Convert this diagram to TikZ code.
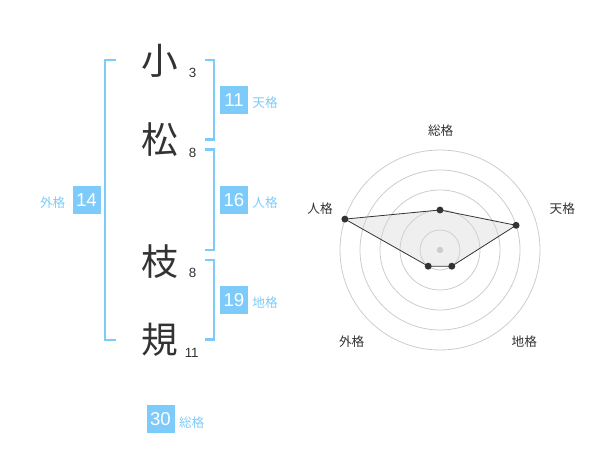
\documentclass[tikz,border=0pt]{standalone}
\usepackage{fontspec}
\setmainfont{Liberation Sans}
\newfontfamily\jpfont{Noto Sans CJK JP}

\definecolor{kakublue}{RGB}{125,203,250}
\definecolor{inkgray}{RGB}{51,51,51}
\definecolor{ringgray}{RGB}{204,204,204}

\tikzset{every picture/.style={line width=0.75pt}}
\tikzset{
  kanji/.style={inner sep=0pt, text=inkgray, font=\jpfont\fontsize{27.5}{27.5}\selectfont},
  strokenum/.style={inner sep=0.75pt, text=inkgray, font=\fontsize{10}{10}\selectfont},
  kakubox/.style={fill=kakublue, text=white, inner sep=0pt, minimum size=21pt, font=\fontsize{14}{14}\selectfont},
  kakulabel/.style={inner sep=0.75pt, text=kakublue, font=\jpfont\fontsize{9.5}{9.5}\selectfont},
  bracket/.style={draw=kakublue, line width=1.6pt},
  ring/.style={draw=ringgray, line width=0.6pt},
  radarlabel/.style={inner sep=0.75pt, text=inkgray, font=\jpfont\fontsize{9.5}{9.5}\selectfont},
  radardot/.style={fill=inkgray}
}

\begin{document}
\begin{tikzpicture}[x=0.75pt,y=0.75pt,yscale=-1,xscale=1]
\path[use as bounding box] (0,0) rectangle (600,470);

%Straight Lines (brackets)
\draw [bracket]   (116,60) -- (105,60) -- (105,340) -- (116,340) ;
\draw [bracket]   (205,60) -- (214,60) -- (214,139.5) -- (205,139.5) ;
\draw [bracket]   (205,149.5) -- (214,149.5) -- (214,250) -- (205,250) ;
\draw [bracket]   (205,260) -- (214,260) -- (214,339.5) -- (205,339.5) ;

% Text Node
\draw (160,61.2) node (sho) [kanji] {小};
\draw (160,139.5) node (matsu) [kanji] {松};
\draw (160,261.2) node (eda) [kanji] {枝};
\draw (160,339.5) node (ki) [kanji] {規};
\draw (192.7,72.7) node (shoN) [strokenum] {3};
\draw (192.7,152.7) node (matsuN) [strokenum] {8};
\draw (192.7,272.7) node (edaN) [strokenum] {8};
\draw (191.7,352.7) node (kiN) [strokenum] {11};

% Text Node
\draw (234,100) node (tenB) [kakubox] {11};
\draw (234,200) node (jinB) [kakubox] {16};
\draw (234,300) node (chiB) [kakubox] {19};
\draw (86.5,200) node (gaiB) [kakubox] {14};
\draw (160.5,419) node (souB) [kakubox] {30};
\draw (265,103) node (tenL) [kakulabel] {天格};
\draw (265,203) node (jinL) [kakulabel] {人格};
\draw (265,303) node (chiL) [kakulabel] {地格};
\draw (52.7,203) node (gaiL) [kakulabel] {外格};
\draw (191.7,422.5) node (souL) [kakulabel] {総格};

%Shape: Circle (radar rings)
\coordinate (c) at (440,250);
\foreach \r in {20,40,60,80,100}
  \draw [ring] (c) circle [radius=\r*0.75pt];

\coordinate (sou) at (440,210);
\coordinate (ten) at (516.1,225.3);
\coordinate (chi) at (451.8,266.2);
\coordinate (gai) at (428.2,266.2);
\coordinate (jin) at (344.9,219.1);

%Shape: Polygon
\fill [fill={rgb,255:red,215;green,215;blue,215}, fill opacity=0.4] (sou) -- (ten) -- (chi) -- (gai) -- (jin) -- cycle;
\draw [color=inkgray, line width=0.6pt] (sou) -- (ten) -- (chi) -- (gai) -- (jin) -- cycle;
\fill [fill=ringgray] (c) circle [radius=2.4pt];
\foreach \p in {sou,ten,chi,gai,jin}
  \fill [radardot] (\p) circle [radius=2.6pt];

% Text Node
\draw (440.7,130.7) node (souR) [radarlabel] {総格};
\draw (562.3,208.7) node (tenR) [radarlabel] {天格};
\draw (524.3,341.7) node (chiR) [radarlabel] {地格};
\draw (351.7,341.7) node (gaiR) [radarlabel] {外格};
\draw (320,208.7) node (jinR) [radarlabel] {人格};

\end{tikzpicture}
\end{document}
